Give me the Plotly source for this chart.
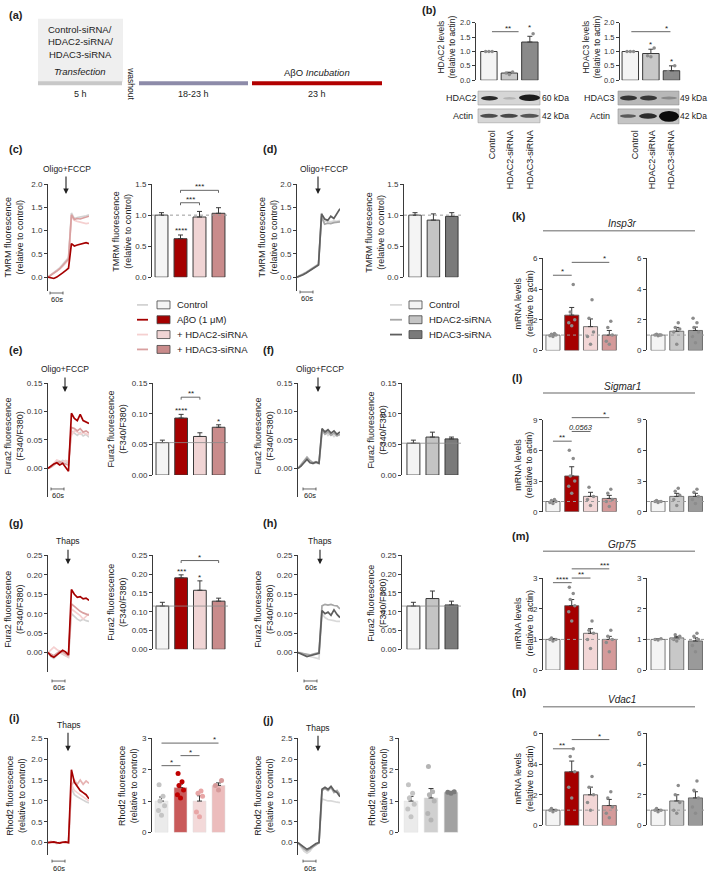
import plotly.graph_objects as go

W, H = 709, 878
FONT = "Liberation Sans, Arial, sans-serif"
AX = "#3a3a3a"
TXT = "#222222"

# ---------------- DATA ----------------
# (b) western-blot quantification
b_groups = ["Control", "HDAC2-siRNA", "HDAC3-siRNA"]
b2_mean = [1.0, 0.25, 1.33]
b2_err = [0.0, 0.03, 0.20]
b2_pts = [[1.0, 1.0, 1.0], [0.20, 0.25, 0.29], [1.12, 1.20, 1.62]]
b3_mean = [1.0, 0.93, 0.33]
b3_err = [0.0, 0.15, 0.17]
b3_pts = [[1.0, 1.0, 1.0], [0.82, 0.85, 1.12], [0.18, 0.30, 0.50]]
b_ticks = [0, 0.5, 1.0, 1.5, 2.0]
b_ticklabels = ["0.0", "0.5", "1.0", "1.5", "2.0"]

# time points of the kinetic traces (frames)
t_idx = list(range(15))

# (c) TMRM traces, AβO group
c_ctrl = [0.00, 0.05, 0.10, 0.15, 0.20, 0.27, 0.34, 0.42, 1.38, 1.26, 1.28, 1.29, 1.30, 1.32, 1.34]
c_abo = [0.00, -0.02, -0.03, 0.00, 0.04, 0.09, 0.14, 0.19, 0.72, 0.67, 0.69, 0.71, 0.73, 0.74, 0.72]
c_h2 = [0.00, 0.04, 0.08, 0.12, 0.17, 0.23, 0.30, 0.37, 1.30, 1.22, 1.20, 1.18, 1.16, 1.15, 1.16]
c_h3 = [0.00, 0.04, 0.09, 0.13, 0.18, 0.25, 0.32, 0.39, 1.34, 1.24, 1.26, 1.25, 1.27, 1.29, 1.31]
c_mean = [1.0, 0.62, 0.97, 1.03]
c_err = [0.04, 0.06, 0.09, 0.09]
tmrm_ticks = [0, 0.5, 1.0, 1.5, 2.0]
tmrm_labels = ["0.0", "0.5", "1.0", "1.5", "2.0"]

# (d) TMRM traces, siRNA only
d_ctrl = [0.00, 0.03, 0.07, 0.11, 0.15, 0.19, 0.24, 0.28, 1.38, 1.20, 1.21, 1.19, 1.21, 1.20, 1.22]
d_h2 = [0.00, 0.03, 0.06, 0.10, 0.14, 0.19, 0.23, 0.27, 1.30, 1.14, 1.16, 1.15, 1.17, 1.18, 1.19]
d_h3 = [0.00, 0.02, 0.05, 0.09, 0.13, 0.18, 0.22, 0.26, 1.36, 1.25, 1.22, 1.31, 1.26, 1.36, 1.47]
d_mean = [1.0, 0.92, 0.98]
d_err = [0.04, 0.10, 0.06]

# (e) Fura2 Oligo+FCCP, AβO group
e_ctrl = [0.000, 0.004, 0.008, 0.012, 0.010, 0.014, 0.012, 0.010, 0.066, 0.062, 0.058, 0.063, 0.057, 0.060, 0.055]
e_abo = [0.000, 0.004, 0.008, 0.010, 0.006, 0.009, 0.003, -0.005, 0.097, 0.088, 0.084, 0.095, 0.084, 0.082, 0.079]
e_h2 = [0.000, 0.003, 0.009, 0.015, 0.013, 0.011, 0.014, 0.012, 0.058, 0.066, 0.064, 0.060, 0.063, 0.061, 0.059]
e_h3 = [0.000, 0.002, 0.006, 0.010, 0.012, 0.010, 0.008, 0.006, 0.072, 0.070, 0.066, 0.070, 0.064, 0.066, 0.062]
e_mean = [0.053, 0.093, 0.063, 0.078]
e_err = [0.004, 0.006, 0.006, 0.004]
fura1_ticks = [0, 0.05, 0.10, 0.15]
fura1_labels = ["0.00", "0.05", "0.10", "0.15"]

# (f) Fura2 Oligo+FCCP, siRNA only
f_ctrl = [0.000, 0.005, 0.012, 0.018, 0.012, 0.008, 0.010, 0.008, 0.060, 0.066, 0.058, 0.062, 0.056, 0.060, 0.058]
f_h2 = [0.000, 0.006, 0.014, 0.020, 0.014, 0.010, 0.012, 0.010, 0.068, 0.060, 0.064, 0.058, 0.062, 0.057, 0.060]
f_h3 = [0.000, 0.004, 0.010, 0.016, 0.010, 0.009, 0.011, 0.009, 0.070, 0.064, 0.068, 0.062, 0.066, 0.060, 0.064]
f_mean = [0.052, 0.062, 0.059]
f_err = [0.005, 0.008, 0.003]

# (g) Fura2 Thapsigargin, AβO group
g_ctrl = [0.000, -0.010, -0.015, -0.008, 0.000, -0.004, -0.008, -0.012, 0.100, 0.092, 0.086, 0.082, 0.086, 0.082, 0.080]
g_abo = [0.000, -0.008, -0.012, -0.006, 0.002, 0.006, 0.002, -0.006, 0.162, 0.150, 0.142, 0.144, 0.138, 0.140, 0.134]
g_h2 = [0.000, 0.006, 0.014, 0.008, 0.002, -0.002, -0.006, -0.010, 0.112, 0.106, 0.100, 0.095, 0.086, 0.092, 0.100]
g_h3 = [0.000, -0.004, -0.008, -0.002, 0.004, 0.002, -0.003, -0.008, 0.125, 0.118, 0.112, 0.106, 0.102, 0.098, 0.096]
g_mean = [0.115, 0.19, 0.157, 0.128]
g_err = [0.010, 0.008, 0.025, 0.008]
fura2_ticks = [0, 0.05, 0.10, 0.15, 0.20, 0.25]
fura2_labels = ["0.00", "0.05", "0.10", "0.15", "0.20", "0.25"]

# (h) Fura2 Thapsigargin, siRNA only
h_ctrl = [0.000, 0.000, -0.004, -0.008, -0.010, -0.012, -0.014, -0.016, 0.100, 0.090, 0.085, 0.084, 0.082, 0.080, 0.080]
h_h2 = [0.000, -0.002, -0.004, -0.006, -0.006, -0.004, -0.002, 0.000, 0.120, 0.124, 0.122, 0.124, 0.121, 0.120, 0.112]
h_h3 = [0.000, -0.004, -0.008, -0.010, -0.008, -0.006, -0.004, -0.002, 0.108, 0.100, 0.104, 0.096, 0.110, 0.098, 0.090]
h_mean = [0.115, 0.135, 0.118]
h_err = [0.010, 0.020, 0.010]

# (i) Rhod2 Thapsigargin, AβO group
i_ctrl = [0.00, 0.02, 0.00, -0.02, 0.00, 0.01, 0.00, -0.01, 1.30, 1.15, 1.10, 1.05, 1.02, 0.98, 0.95]
i_abo = [0.00, 0.01, 0.02, 0.00, -0.01, 0.01, 0.02, 0.00, 1.75, 1.45, 1.35, 1.25, 1.20, 1.15, 1.05]
i_h2 = [0.00, 0.03, 0.01, -0.01, 0.00, 0.02, 0.01, 0.00, 1.35, 1.50, 1.40, 1.50, 1.40, 1.48, 1.42]
i_h3 = [0.00, 0.00, 0.01, 0.00, 0.01, 0.00, -0.01, 0.00, 1.40, 1.25, 1.20, 1.15, 1.10, 1.05, 1.00]
i_mean = [1.0, 1.43, 1.0, 1.5]
i_err = [0.13, 0.11, 0.17, 0.08]
i_pts = [[0.55, 0.70, 0.85, 1.00, 1.15, 1.52],
         [1.10, 1.20, 1.35, 1.50, 1.62, 1.88],
         [0.50, 0.65, 1.15, 1.25, 1.32],
         [1.35, 1.50, 1.66]]
rhod_ticks = [0, 0.5, 1.0, 1.5, 2.0, 2.5]
rhod_labels = ["0.0", "0.5", "1.0", "1.5", "2.0", "2.5"]

# (j) Rhod2 Thapsigargin, siRNA only
j_ctrl = [0.00, -0.10, -0.20, -0.25, -0.20, -0.10, -0.05, 0.00, 1.05, 1.02, 1.00, 1.00, 0.98, 0.97, 0.96]
j_h2 = [0.00, -0.08, -0.15, -0.20, -0.15, -0.08, -0.04, 0.00, 1.25, 1.30, 1.25, 1.32, 1.20, 1.25, 1.15]
j_h3 = [0.00, -0.06, -0.12, -0.16, -0.12, -0.06, -0.02, 0.00, 1.28, 1.33, 1.28, 1.35, 1.25, 1.20, 1.10]
j_mean = [1.0, 1.1, 1.28]
j_err = [0.15, 0.30, 0.03]
j_pts = [[0.50, 0.75, 0.90, 1.10, 1.25, 1.52],
         [0.40, 0.60, 1.00, 1.20, 1.30, 2.10],
         [1.25, 1.28, 1.30]]

# (k)-(n) mRNA levels
genes = ["Insp3r", "Sigmar1", "Grp75", "Vdac1"]
k_left_mean = [1.0, 2.3, 1.55, 1.0]
k_left_err = [0.05, 0.5, 0.5, 0.3]
k_left_pts = [[0.9, 0.95, 1.0, 1.05, 1.1], [1.6, 1.8, 2.0, 2.5, 4.3],
              [0.4, 0.9, 1.2, 2.1, 3.3], [0.4, 0.6, 1.0, 1.5, 1.9]]
k_right_mean = [1.0, 1.25, 1.3]
k_right_err = [0.05, 0.25, 0.22]
k_right_pts = [[0.95, 1.0, 1.0, 1.05, 1.0], [0.4, 1.2, 1.4, 1.5, 1.8],
               [0.5, 0.9, 1.2, 1.5, 1.8, 2.1]]

l_left_mean = [1.0, 3.5, 1.5, 1.3]
l_left_err = [0.1, 0.9, 0.4, 0.3]
l_left_pts = [[0.8, 0.9, 1.0, 1.1, 1.2], [1.8, 2.5, 3.0, 3.5, 5.2, 6.0],
              [0.6, 1.2, 1.5, 2.4], [0.5, 1.0, 1.2, 1.8, 2.2]]
l_right_mean = [1.0, 1.5, 1.5]
l_right_err = [0.05, 0.3, 0.3]
l_right_pts = [[0.9, 1.0, 1.0, 1.1], [0.6, 1.2, 1.6, 2.0, 2.3],
               [0.8, 1.2, 1.5, 1.9, 2.2]]

m_left_mean = [1.0, 2.1, 1.2, 1.0]
m_left_err = [0.03, 0.2, 0.15, 0.1]
m_left_pts = [[0.95, 1.0, 1.0, 1.05], [1.6, 1.9, 2.1, 2.3, 2.5, 2.7],
              [0.7, 1.0, 1.2, 1.3, 1.6], [0.6, 0.9, 1.0, 1.1, 1.3]]
m_right_mean = [1.0, 1.05, 0.95]
m_right_err = [0.02, 0.05, 0.1]
m_right_pts = [[0.98, 1.0, 1.02], [0.95, 1.0, 1.1, 1.15],
               [0.6, 0.8, 1.0, 1.1, 1.2]]

n_left_mean = [1.0, 3.5, 2.0, 1.3]
n_left_err = [0.05, 0.7, 0.5, 0.4]
n_left_pts = [[0.9, 1.0, 1.0, 1.1], [1.8, 2.5, 3.5, 4.5, 5.0],
              [1.0, 1.5, 2.0, 2.5, 3.2], [0.5, 0.8, 1.2, 1.8, 2.2]]
n_right_mean = [1.0, 1.6, 1.8]
n_right_err = [0.05, 0.4, 0.4]
n_right_pts = [[0.9, 1.0, 1.0, 1.1], [0.8, 1.0, 1.5, 2.0, 2.6],
               [0.8, 1.2, 1.8, 2.3, 2.9]]

# ---------------- STYLE ----------------
COL_A = dict(ctrl_line="#d3d3d3", abo_line="#a50000", h2_line="#f5d0d0", h3_line="#d9a0a0",
             bars=["#f4f4f4", "#a50000", "#f0d4d4", "#c98b8b"])
COL_B = dict(ctrl_line="#d9d9d9", h2_line="#a6a6a6", h3_line="#5e5e5e",
             bars=["#f4f4f4", "#c4c4c4", "#7a7a7a"])

fig = go.Figure()
layout_axes = {}
panels = {}
shapes = []
annotations = []


def add_panel(name, x0, x1, ytop, ybot, xr, yr, tickvals, ticktext, tsize=8):
    n = len(panels) + 1
    s = "" if n == 1 else str(n)
    layout_axes["xaxis" + s] = dict(domain=[x0 / W, x1 / W], range=xr, anchor="y" + s,
                                    visible=False, fixedrange=True)
    layout_axes["yaxis" + s] = dict(domain=[1 - ybot / H, 1 - ytop / H], range=yr, anchor="x" + s,
                                    showline=True, linecolor=AX, linewidth=1, ticks="outside",
                                    ticklen=3, tickwidth=1, tickcolor=AX, tickvals=tickvals,
                                    ticktext=ticktext, showgrid=False, zeroline=False,
                                    fixedrange=True,
                                    tickfont=dict(size=tsize, color="#333", family=FONT))
    panels[name] = dict(x="x" + s, y="y" + s, px=(x0, x1), py=(ytop, ybot), xr=xr, yr=yr)
    return panels[name]


def pxx(p, xd):
    x0, x1 = p["px"]
    return x0 + (xd - p["xr"][0]) / (p["xr"][1] - p["xr"][0]) * (x1 - x0)


def pxy(p, yd):
    ytop, ybot = p["py"]
    return ybot - (yd - p["yr"][0]) / (p["yr"][1] - p["yr"][0]) * (ybot - ytop)


def txt(x, y, s, size=9, color=TXT, xanchor="center", yanchor="middle", angle=0):
    annotations.append(dict(x=x / W, y=1 - y / H, xref="paper", yref="paper", text=s,
                            showarrow=False, font=dict(size=size, color=color, family=FONT),
                            xanchor=xanchor, yanchor=yanchor, textangle=angle, borderpad=0))


def line(x0, y0, x1, y1, color="#444", width=1, dash=None):
    shapes.append(dict(type="line", xref="paper", yref="paper", x0=x0 / W, x1=x1 / W,
                       y0=1 - y0 / H, y1=1 - y1 / H, line=dict(color=color, width=width, dash=dash)))


def rect(x0, y0, x1, y1, fill, lc=None, lw=0, kind="rect", opacity=1):
    shapes.append(dict(type=kind, xref="paper", yref="paper", x0=x0 / W, x1=x1 / W,
                       y0=1 - y1 / H, y1=1 - y0 / H, fillcolor=fill, opacity=opacity,
                       line=dict(color=lc or fill, width=lw), layer="above"))


def arrow(x, ytail, yhead):
    annotations.append(dict(x=x / W, y=1 - yhead / H, xref="paper", yref="paper", ax=0,
                            ay=-(yhead - ytail), text="", showarrow=True, arrowhead=2,
                            arrowsize=1, arrowwidth=1.1, arrowcolor="#222"))


def bracket(p, xa, xb, yv, label, tx=None, drop=True, size=8, color="#555"):
    x0, x1, y = pxx(p, xa), pxx(p, xb), pxy(p, yv)
    line(x0, y, x1, y, color, 0.9)
    if drop:
        line(x0, y, x0, y + 2.5, color, 0.9)
        line(x1, y, x1, y + 2.5, color, 0.9)
    lx = pxx(p, tx) if tx is not None else (x0 + x1) / 2
    txt(lx, y + 2, label, size, yanchor="bottom")


def star(p, xi, yv, label, size=8):
    txt(pxx(p, xi), pxy(p, yv) + 2, label, size, yanchor="bottom")


def offsets(n, s=0.16):
    pat = [0.0, -s, s, -s / 2, s / 2, -s * 0.8, s * 0.8]
    return [pat[k % len(pat)] for k in range(n)]


def traces(p, series):
    for ys, col in series:
        fig.add_trace(go.Scatter(x=t_idx, y=ys, mode="lines", line=dict(color=col, width=1.7),
                                 xaxis=p["x"], yaxis=p["y"], hoverinfo="skip"))


def bars(p, mean, err, colors, edge="#3a3a3a", width=0.68, ew=1):
    n = len(mean)
    fig.add_trace(go.Bar(x=list(range(n)), y=mean, width=width,
                         marker=dict(color=colors, line=dict(color=edge, width=ew)),
                         error_y=dict(type="data", symmetric=False, array=err,
                                      arrayminus=[0] * n, color=AX, thickness=1, width=2.5),
                         xaxis=p["x"], yaxis=p["y"], hoverinfo="skip"))


def points(p, pts, colors, size=4):
    for k, vals in enumerate(pts):
        offs = offsets(len(vals))
        fig.add_trace(go.Scatter(x=[k + o for o in offs], y=vals, mode="markers",
                                 marker=dict(color=colors[k], size=size), cliponaxis=False,
                                 xaxis=p["x"], yaxis=p["y"], hoverinfo="skip"))


def refline(p, yv, color="#9a9a9a", dash="dot", width=1):
    y = pxy(p, yv)
    line(p["px"][0], y, p["px"][1], y, color, width, dash)


def scalebar(x0, y):
    line(x0, y, x0 + 13, y, "#444", 0.8)
    line(x0, y - 1.5, x0, y + 1.5, "#444", 0.8)
    line(x0 + 13, y - 1.5, x0 + 13, y + 1.5, "#444", 0.8)
    txt(x0 + 6.5, y + 7, "60s", 7.5)


# ---------------- (a) timeline ----------------
txt(8, 11, "<b>(a)</b>", 11, xanchor="left")
rect(38, 15, 123, 79, "#efefef")
rect(38, 78, 122, 82, "#c8c8c8")
rect(139, 78, 248, 82, "#8d8ba9")
rect(252, 78, 382, 82, "#b20000")
txt(80, 26, "Control-siRNA/", 9.5)
txt(80, 38, "HDAC2-siRNA/", 9.5)
txt(80, 51, "HDAC3-siRNA", 9.5)
txt(80, 68, "<i>Transfection</i>", 9.5)
txt(131, 80, "washout", 8.5, angle=90)
txt(80, 91, "5 h", 9)
txt(193, 91, "18-23 h", 9)
txt(317, 91, "23 h", 9)
txt(317, 69, "AβO <i>Incubation</i>", 9.5)

# ---------------- (b) ----------------
txt(421, 6, "<b>(b)</b>", 11, xanchor="left")
pb2 = add_panel("b2", 476, 545, 19, 77, [-0.63, 2.74], [0, 2], b_ticks, b_ticklabels, 7.5)
bars(pb2, b2_mean, b2_err, ["#f4f4f4", "#c8c8c8", "#8a8a8a"], width=0.8)
points(pb2, b2_pts, ["#8c8c8c"] * 3, 3.5)
bracket(pb2, 0.15, 1.45, 1.69, "**", tx=0.95, drop=False)
star(pb2, 2, 1.72, "*")
txt(447, 44, "HDAC2 levels<br>(relative to actin)", 8.5, angle=-90)

pb3 = add_panel("b3", 620, 690, 19, 77, [-0.5, 2.9], [0, 2], b_ticks, b_ticklabels, 7.5)
bars(pb3, b3_mean, b3_err, ["#f4f4f4", "#c8c8c8", "#8a8a8a"], width=0.8)
points(pb3, b3_pts, ["#8c8c8c"] * 3, 3.5)
bracket(pb3, 0.05, 1.95, 1.69, "*", tx=1.75, drop=False)
star(pb3, 1, 1.12, "*")
star(pb3, 2, 0.52, "*")
txt(592, 44, "HDAC3 levels<br>(relative to actin)", 8.5, angle=-90)

# western blots
rect(478, 88, 540, 102, "#d6d6d6", "#a0a0a0", 0.6)
rect(481, 93, 498, 97.5, "#2a2a2a", kind="circle")
rect(503, 94, 516, 96.5, "#b4b4b4", kind="circle")
rect(519, 91.5, 540, 98, "#1c1c1c", kind="circle")
rect(478, 106, 540, 120, "#d6d6d6", "#a0a0a0", 0.6)
rect(480, 111, 498, 115, "#4c4c4c", kind="circle")
rect(500, 111, 518, 115, "#474747", kind="circle")
rect(520, 111, 539, 115, "#555555", kind="circle")
txt(461, 95, "HDAC2", 9)
txt(463, 113, "Actin", 9)
txt(555, 95, "60 kDa", 8.5)
txt(555, 113, "42 kDa", 8.5)

rect(618, 88, 679, 102, "#b8b8b8", "#909090", 0.6)
rect(620, 92.5, 637, 97.5, "#333333", kind="circle")
rect(640, 92.5, 657, 97.5, "#383838", kind="circle")
rect(661, 93.5, 677, 96.5, "#8a8a8a", kind="circle")
rect(618, 106, 679, 121, "#c4c4c4", "#909090", 0.6)
rect(620, 111.5, 636, 115, "#5a5a5a", kind="circle")
rect(639, 110.5, 657, 116, "#2c2c2c", kind="circle")
rect(659, 108, 679, 119, "#0c0c0c", kind="circle")
txt(599, 95, "HDAC3", 9)
txt(600, 113, "Actin", 9)
txt(708, 95, "49 kDa", 8.5, xanchor="right")
txt(708, 113, "42 kDa", 8.5, xanchor="right")

for xs in ([492, 510, 530], [635, 652, 671]):
    for xc, g in zip(xs, b_groups):
        txt(xc, 127, g, 9, yanchor="top", angle=-90)

# ---------------- (c) ----------------
txt(8, 146, "<b>(c)</b>", 11, xanchor="left")
pc = add_panel("c", 48, 89, 182, 290, [0, 14], [-0.3, 2.0], tmrm_ticks, tmrm_labels)
traces(pc, [(c_ctrl, COL_A["ctrl_line"]), (c_h2, COL_A["h2_line"]), (c_h3, COL_A["h3_line"]),
            (c_abo, COL_A["abo_line"])])
txt(67, 167, "Oligo+FCCP", 8.5)
arrow(66, 173, 192)
scalebar(50, 292)
txt(14, 236, "TMRM fluorescence<br>(relative to control)", 9, angle=-90)

pcb = add_panel("cb", 152, 228, 182, 276, [-0.5, 3.5], [0, 1.5], [0, 0.5, 1.0, 1.5],
                ["0.0", "0.5", "1.0", "1.5"])
bars(pcb, c_mean, c_err, COL_A["bars"])
refline(pcb, 1.0)
star(pcb, 1, 0.70, "****")
bracket(pcb, 1, 2, 1.20, "***")
bracket(pcb, 1, 3, 1.40, "***")
txt(122, 230, "TMRM fluorescence<br>(relative to control)", 9, angle=-90)

# ---------------- (d) ----------------
txt(262, 147, "<b>(d)</b>", 11, xanchor="left")
pd_ = add_panel("d", 297, 340, 182, 290, [0, 14], [-0.3, 2.0], tmrm_ticks, tmrm_labels)
traces(pd_, [(d_ctrl, COL_B["ctrl_line"]), (d_h2, COL_B["h2_line"]), (d_h3, COL_B["h3_line"])])
txt(324, 167, "Oligo+FCCP", 8.5)
arrow(318, 173, 192)
scalebar(300, 291)
txt(268, 236, "TMRM fluorescence<br>(relative to control)", 9, angle=-90)

pdb = add_panel("db", 404, 461, 182, 276, [-0.6, 2.5], [0, 1.5], [0, 0.5, 1.0, 1.5],
                ["0.0", "0.5", "1.0", "1.5"])
bars(pdb, d_mean, d_err, COL_B["bars"])
refline(pdb, 1.0)
txt(375, 230, "TMRM fluorescence<br>(relative to control)", 9, angle=-90)

# legends
leg_a = [("Control", COL_A["ctrl_line"], COL_A["bars"][0]),
         ("AβO (1 μM)", COL_A["abo_line"], COL_A["bars"][1]),
         ("+ HDAC2-siRNA", COL_A["h2_line"], COL_A["bars"][2]),
         ("+ HDAC3-siRNA", COL_A["h3_line"], COL_A["bars"][3])]
for k, (lab, lc, bc) in enumerate(leg_a):
    y = 304 + 15 * k
    line(137, y, 148, y, lc, 1.8)
    rect(157, y - 4, 170, y + 4, bc, "#444", 0.8)
    txt(176, y, lab, 9.5, xanchor="left")
leg_b = [("Control", COL_B["ctrl_line"], COL_B["bars"][0]),
         ("HDAC2-siRNA", COL_B["h2_line"], COL_B["bars"][1]),
         ("HDAC3-siRNA", COL_B["h3_line"], COL_B["bars"][2])]
for k, (lab, lc, bc) in enumerate(leg_b):
    y = 304 + 15 * k
    line(390, y, 402, y, lc, 1.8)
    rect(409, y - 4, 422, y + 4, bc, "#444", 0.8)
    txt(428, y, lab, 9.5, xanchor="left")

# ---------------- (e) ----------------
txt(8, 350, "<b>(e)</b>", 11, xanchor="left")
pe = add_panel("e", 48, 89, 383, 498, [0, 14], [-0.05, 0.15], fura1_ticks, fura1_labels)
traces(pe, [(e_ctrl, COL_A["ctrl_line"]), (e_h2, COL_A["h2_line"]), (e_h3, COL_A["h3_line"]),
            (e_abo, COL_A["abo_line"])])
txt(65, 369, "Oligo+FCCP", 8.5)
arrow(65, 376, 392)
scalebar(51, 490)
txt(14, 437, "Fura2 fluorescence<br>(F340/F380)", 9, angle=-90)

peb = add_panel("eb", 153, 228, 383, 476, [-0.5, 3.5], [0, 0.15], fura1_ticks, fura1_labels)
bars(peb, e_mean, e_err, COL_A["bars"])
refline(peb, e_mean[0], "#8a8a8a", None, 0.8)
star(peb, 1, 0.099, "****")
star(peb, 3, 0.082, "*")
bracket(peb, 1, 2, 0.127, "**")
txt(117, 430, "Fura2 fluorescence<br>(F340/F380)", 9, angle=-90)

# ---------------- (f) ----------------
txt(262, 350, "<b>(f)</b>", 11, xanchor="left")
pf = add_panel("f", 298, 340, 383, 498, [0, 14], [-0.05, 0.15], fura1_ticks, fura1_labels)
traces(pf, [(f_ctrl, COL_B["ctrl_line"]), (f_h2, COL_B["h2_line"]), (f_h3, COL_B["h3_line"])])
txt(320, 369, "Oligo+FCCP", 8.5)
arrow(318, 376, 392)
scalebar(303, 490)
txt(264, 437, "Fura2 fluorescence<br>(F340/F380)", 9, angle=-90)

pfb = add_panel("fb", 402, 461, 383, 476, [-0.6, 2.5], [0, 0.15], fura1_ticks, fura1_labels)
bars(pfb, f_mean, f_err, COL_B["bars"])
refline(pfb, f_mean[0], "#8a8a8a", None, 0.8)
txt(377, 430, "Fura2 fluorescence<br>(F340/F380)", 9, angle=-90)

# ---------------- (g) ----------------
txt(8, 524, "<b>(g)</b>", 11, xanchor="left")
pg = add_panel("g", 48, 89, 557, 675, [0, 14], [-0.05, 0.25], fura2_ticks, fura2_labels)
traces(pg, [(g_ctrl, COL_A["ctrl_line"]), (g_h2, COL_A["h2_line"]), (g_h3, COL_A["h3_line"]),
            (g_abo, COL_A["abo_line"])])
txt(68, 543, "Thaps", 8.5)
arrow(68, 550, 566)
scalebar(52, 684)
txt(14, 612, "Fura2 fluorescence<br>(F340/F380)", 9, angle=-90)

pgb = add_panel("gb", 153, 228, 557, 652, [-0.5, 3.5], [0, 0.25], fura2_ticks, fura2_labels)
bars(pgb, g_mean, g_err, COL_A["bars"])
refline(pgb, g_mean[0], "#8a8a8a", None, 0.8)
star(pgb, 1, 0.198, "***")
star(pgb, 2, 0.182, "*")
bracket(pgb, 1, 3, 0.236, "*")
txt(117, 605, "Fura2 fluorescence<br>(F340/F380)", 9, angle=-90)

# ---------------- (h) ----------------
txt(262, 524, "<b>(h)</b>", 11, xanchor="left")
ph = add_panel("h", 298, 340, 557, 675, [0, 14], [-0.05, 0.25], fura2_ticks, fura2_labels)
traces(ph, [(h_ctrl, COL_B["ctrl_line"]), (h_h2, COL_B["h2_line"]), (h_h3, COL_B["h3_line"])])
txt(320, 543, "Thaps", 8.5)
arrow(320, 550, 566)
scalebar(304, 684)
txt(264, 612, "Fura2 fluorescence<br>(F340/F380)", 9, angle=-90)

phb = add_panel("hb", 402, 461, 557, 652, [-0.6, 2.5], [0, 0.25], fura2_ticks, fura2_labels)
bars(phb, h_mean, h_err, COL_B["bars"])
refline(phb, h_mean[0], "#8a8a8a", None, 0.8)
txt(377, 605, "Fura2 fluorescence<br>(F340/F380)", 9, angle=-90)

# ---------------- (i) ----------------
txt(8, 721, "<b>(i)</b>", 11, xanchor="left")
pi = add_panel("i", 48, 89, 742, 860, [0, 14], [-0.3, 2.5], rhod_ticks, rhod_labels)
traces(pi, [(i_ctrl, COL_A["ctrl_line"]), (i_h2, "#e6b3b3"), (i_h3, COL_A["h2_line"]),
            (i_abo, COL_A["abo_line"])])
txt(69, 728, "Thaps", 8.5)
arrow(68, 735, 755)
scalebar(52, 866)
txt(16, 800, "Rhod2 fluorescence<br>(relative to control)", 9, angle=-90)

pib = add_panel("ib", 152, 228, 742, 837, [-0.5, 3.5], [0, 3], [0, 1, 2, 3],
                ["0", "1", "2", "3"])
bars(pib, i_mean, i_err, ["#ebebeb", "#c95a5a", "#f3d9d9", "#ecbcbc"], edge="#dddddd", ew=0.5)
points(pib, i_pts, ["#c4c4c4", "#c00000", "#e8a6a6", "#d69a9a"], 5)
bracket(pib, 0, 1, 2.13, "*", drop=False)
bracket(pib, 1, 2, 2.45, "*", drop=False)
bracket(pib, 0, 3, 2.85, "*", tx=2.8, drop=False)
txt(128, 790, "Rhod2 fluorescence<br>(relative to control)", 9, angle=-90)

# ---------------- (j) ----------------
txt(262, 723, "<b>(j)</b>", 11, xanchor="left")
pj = add_panel("j", 298, 340, 742, 860, [0, 14], [-0.3, 2.5], rhod_ticks, rhod_labels)
traces(pj, [(j_ctrl, COL_B["ctrl_line"]), (j_h2, COL_B["h2_line"]), (j_h3, COL_B["h3_line"])])
txt(318, 731, "Thaps", 8.5)
arrow(318, 738, 755)
scalebar(303, 866)
txt(264, 800, "Rhod2 fluorescence<br>(relative to control)", 9, angle=-90)

pjb = add_panel("jb", 399, 461, 742, 837, [-0.6, 2.5], [0, 3], [0, 1, 2, 3],
                ["0", "1", "2", "3"])
bars(pjb, j_mean, j_err, ["#ebebeb", "#d0d0d0", "#a2a2a2"], edge="#dddddd", ew=0.5)
points(pjb, j_pts, ["#c4c4c4", "#b4b4b4", "#7a7a7a"], 5)
txt(378, 790, "Rhod2 fluorescence<br>(relative to control)", 9, angle=-90)

# ---------------- (k)-(n) ----------------
mr_left_cols = ["#f4f4f4", "#a50000", "#f2d6d6", "#d49a9a"]
mr_right_cols = ["#f4f4f4", "#c8c8c8", "#9a9a9a"]
blocks = [
    ("(k)", 214, genes[0], 257, [0, 6], [0, 2, 4, 6], k_left_mean, k_left_err, k_left_pts,
     k_right_mean, k_right_err, k_right_pts),
    ("(l)", 378, genes[1], 420, [0, 9], [0, 3, 6, 9], l_left_mean, l_left_err, l_left_pts,
     l_right_mean, l_right_err, l_right_pts),
    ("(m)", 538, genes[2], 580, [0, 3], [0, 1, 2, 3], m_left_mean, m_left_err, m_left_pts,
     m_right_mean, m_right_err, m_right_pts),
    ("(n)", 695, genes[3], 737, [0, 6], [0, 2, 4, 6], n_left_mean, n_left_err, n_left_pts,
     n_right_mean, n_right_err, n_right_pts),
]
mr_panels = []
for lab, ylab, gene, ytop, yr, ticks, lm, le, lp, rm, re_, rp in blocks:
    txt(511, ylab, "<b>%s</b>" % lab, 11, xanchor="left")
    txt(622, ylab + 8, "<i>%s</i>" % gene, 10)
    line(543, ylab + 15, 695, ylab + 15, "#999999", 1.5)
    pl = add_panel(gene + "L", 543, 620, ytop, ytop + 93, [-0.53, 3.57], yr, ticks,
                   [str(t) for t in ticks])
    bars(pl, lm, le, mr_left_cols, edge="#555555", width=0.75, ew=0.8)
    points(pl, lp, ["#8c8c8c"] * 4, 3.5)
    refline(pl, 1.0)
    pr = add_panel(gene + "R", 647, 705, ytop, ytop + 93, [-0.59, 2.51], yr, ticks,
                   [str(t) for t in ticks])
    bars(pr, rm, re_, mr_right_cols, edge="#555555", width=0.75, ew=0.8)
    points(pr, rp, ["#8c8c8c"] * 3, 3.5)
    refline(pr, 1.0)
    txt(524, ytop + 46, "mRNA levels<br>(relative to actin)", 9, angle=-90)
    mr_panels.append(pl)

pk, pl_, pm, pn = mr_panels
bracket(pk, 0, 1, 4.9, "*", drop=False)
bracket(pk, 1, 3, 5.74, "*", tx=2.75, drop=False)
bracket(pl_, 0, 1, 6.9, "**", drop=False)
bracket(pl_, 1, 2, 7.85, "<i>0.0563</i>", drop=False, size=7.5)
bracket(pl_, 1, 3, 9.2, "*", tx=2.75, drop=False)
bracket(pm, 0, 1, 2.85, "****", drop=False)
bracket(pm, 1, 2, 3.0, "**", drop=False)
bracket(pm, 1, 3, 3.3, "***", tx=2.75, drop=False)
bracket(pn, 0, 1, 5.0, "**", drop=False)
bracket(pn, 1, 3, 5.6, "*", tx=2.5, drop=False)

fig.update_layout(width=W, height=H, margin=dict(l=0, r=0, t=0, b=0), showlegend=False,
                  paper_bgcolor="white", plot_bgcolor="rgba(0,0,0,0)", barmode="overlay",
                  font=dict(family=FONT, color=TXT), shapes=shapes, annotations=annotations,
                  **layout_axes)
fig.write_html("out.html", config={"displayModeBar": False, "staticPlot": True},
               post_script="document.body.style.margin='0';document.body.style.padding='0';"
                           "document.documentElement.style.overflow='hidden';")
